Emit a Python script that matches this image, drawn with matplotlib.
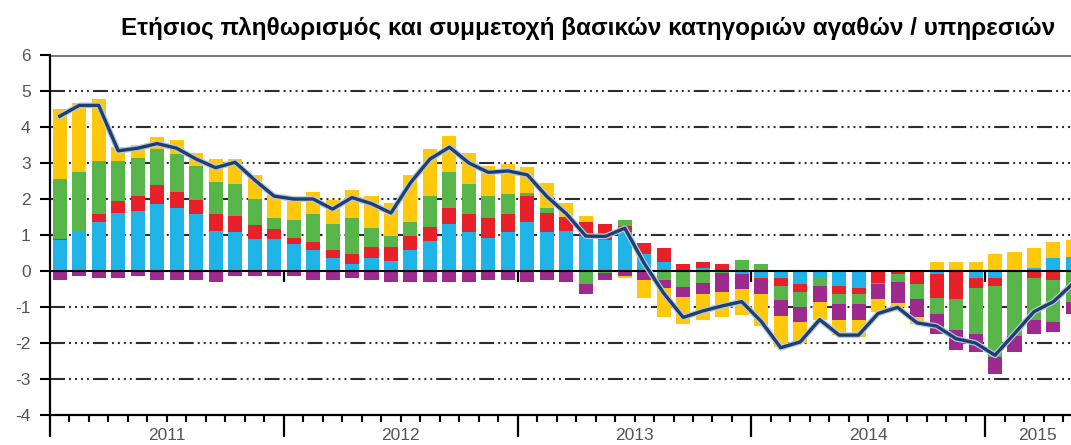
import matplotlib
matplotlib.use("Agg")
import matplotlib.pyplot as plt
import matplotlib.patheffects as pe
import matplotlib.transforms as mtransforms
import numpy as np

plt.rcParams['font.family'] = ['Liberation Sans', 'DejaVu Sans']
plt.rcParams['lines.scale_dashes'] = False

title = "Ετήσιος πληθωρισμός και συμμετοχή βασικών κατηγοριών αγαθών / υπηρεσιών"
years = ["2011", "2012", "2013", "2014", "2015"]
year_label_pos = [5.5, 17.5, 29.5, 41.5, 50.2]

blue = [0.85, 1.07, 1.35, 1.62, 1.68, 1.85, 1.74, 1.57, 1.12, 1.07, 0.90, 0.90,
        0.74, 0.57, 0.35, 0.19, 0.35, 0.29, 0.57, 0.84, 1.30, 1.07, 0.91, 1.07,
        1.35, 1.07, 1.12, 0.97, 0.86, 1.09, 0.47, 0.24, 0.00, 0.07, 0.00, -0.07,
        -0.20, -0.20, -0.37, -0.20, -0.42, -0.48, 0.00, 0.00, 0.00, -0.07, 0.00, -0.20,
        -0.20, 0.00, 0.07, 0.35, 0.40]
red = [0.05, 0.00, 0.22, 0.33, 0.39, 0.55, 0.45, 0.39, 0.45, 0.45, 0.39, 0.28,
       0.17, 0.23, 0.23, 0.28, 0.33, 0.39, 0.39, 0.39, 0.45, 0.50, 0.55, 0.51,
       0.72, 0.55, 0.39, 0.40, 0.44, 0.16, 0.32, 0.39, 0.19, 0.17, 0.19, 0.00,
       -0.05, -0.21, -0.22, 0.00, -0.22, -0.16, -0.32, -0.09, -0.37, -0.68, -0.77, -0.28,
       -0.21, 0.00, -0.20, -0.25, 0.00]
green = [1.65, 1.67, 1.49, 1.11, 1.06, 1.00, 1.06, 0.95, 0.89, 0.89, 0.72, 0.28,
         0.51, 0.78, 0.72, 0.99, 0.51, 0.28, 0.39, 0.84, 0.99, 0.84, 0.61, 0.56,
         0.11, 0.12, 0.00, -0.37, -0.06, 0.17, 0.00, -0.25, -0.44, -0.32, -0.05, 0.31,
         0.19, -0.39, -0.40, -0.21, -0.29, -0.29, -0.05, -0.22, -0.40, -0.44, -0.87, -1.27,
         -1.99, -1.81, -1.16, -1.16, -0.85]
purple = [-0.26, -0.14, -0.20, -0.20, -0.14, -0.26, -0.26, -0.25, -0.31, -0.15, -0.15, -0.15,
          -0.14, -0.25, -0.25, -0.19, -0.25, -0.31, -0.31, -0.31, -0.31, -0.31, -0.25, -0.25,
          -0.30, -0.25, -0.30, -0.28, -0.19, -0.14, -0.25, -0.23, -0.28, -0.32, -0.52, -0.42,
          -0.39, -0.46, -0.44, -0.46, -0.44, -0.44, -0.40, -0.57, -0.50, -0.55, -0.56, -0.49,
          -0.46, -0.44, -0.39, -0.28, -0.35]
yellow = [1.95, 1.92, 1.72, 0.39, 0.37, 0.33, 0.38, 0.38, 0.65, 0.71, 0.67, 0.65,
          0.65, 0.61, 0.68, 0.78, 0.88, 0.94, 1.33, 1.33, 1.00, 0.88, 0.84, 0.82,
          0.72, 0.71, 0.37, 0.16, 0.00, -0.05, -0.49, -0.81, -0.76, -0.71, -0.70, -0.72,
          -0.89, -0.86, -0.58, -0.49, -0.42, -0.45, -0.36, -0.13, -0.20, 0.24, 0.24, 0.24,
          0.46, 0.52, 0.56, 0.45, 0.46]
headline = [4.30, 4.60, 4.60, 3.34, 3.41, 3.54, 3.41, 3.11, 2.87, 3.02, 2.53, 2.08,
            2.00, 2.00, 1.72, 2.04, 1.87, 1.61, 2.45, 3.11, 3.44, 3.00, 2.74, 2.78,
            2.67, 2.07, 1.59, 0.97, 0.96, 1.19, 0.21, -0.62, -1.29, -1.11, -0.97, -0.85,
            -1.40, -2.13, -1.97, -1.35, -1.78, -1.78, -1.18, -1.01, -1.44, -1.53, -1.88, -2.00,
            -2.34, -1.74, -1.13, -0.85, -0.35]

series = [blue, red, green, purple, yellow]
colors = ['#1EB4E8', '#E8202A', '#58B54A', '#9E2A8E', '#FFC80A']

n = len(headline)
x = np.arange(n)
x_left, x_right = -0.5, 51.9

fig = plt.figure(figsize=(10.71, 4.45), dpi=100)
ax = fig.add_axes([50 / 1071, 30 / 445, 1021 / 1071, 360 / 445])

pos_base = np.zeros(n)
neg_base = np.zeros(n)
for vals, c in zip(series, colors):
    v = np.array(vals)
    p = np.where(v > 0, v, 0)
    q = np.where(v < 0, v, 0)
    ax.bar(x, p, bottom=pos_base, width=0.72, color=c, edgecolor='none', zorder=2)
    ax.bar(x, q, bottom=neg_base, width=0.72, color=c, edgecolor='none', zorder=2)
    pos_base += p
    neg_base += q

ax.plot(x, headline, color='#1E3F6F', lw=2.4, zorder=6,
        path_effects=[pe.Stroke(linewidth=4.2, foreground='#b9c8dc'), pe.Normal()])

# grid lines
dash = (0, (10.8, 2.9, 1.4, 2.9, 1.4, 2.9, 1.4, 2.9, 1.4, 2.9))
for g in [5, 4, 3, 2, 1, -1, -2, -3]:
    ax.axhline(g, color='#2e2e2e', lw=1.5, linestyle=dash, zorder=0)
ax.axhline(6, color='#7a7a7a', lw=2.2, zorder=1)
ax.axhline(0, color='black', lw=1.5, zorder=4)

# year separators at zero line
year_bounds = [-0.5, 11.5, 23.5, 35.5, 47.5]
for b in year_bounds[1:]:
    ax.plot([b, b], [0, -0.3], color='black', lw=1.6, zorder=4, solid_capstyle='butt')

for s in ['top', 'right']:
    ax.spines[s].set_visible(False)
ax.spines['left'].set_linewidth(1.6)
ax.spines['bottom'].set_linewidth(1.6)

ax.set_yticks(range(-4, 7))
ax.set_yticklabels([str(v) if v >= 0 else '-' + str(-v) for v in range(-4, 7)],
                   color='#555555', fontsize=12.5)
ax.tick_params(axis='y', direction='out', length=7, width=1.5, pad=7)

ax.set_xticks(year_bounds)
ax.set_xticklabels([])
minor = [i + 0.5 for i in range(-1, n) if (i + 0.5) not in year_bounds and (i + 0.5) < x_right]
ax.set_xticks(minor, minor=True)
ax.tick_params(axis='x', which='major', direction='out', length=16, width=1.6)
ax.tick_params(axis='x', which='minor', direction='out', length=5, width=1.5)

ax.set_xlim(x_left, x_right)
ax.set_ylim(-4, 6)

trans = mtransforms.blended_transform_factory(ax.transData, ax.transAxes)
for yl, xp in zip(years, year_label_pos):
    ax.text(xp, -25 / 360, yl, transform=trans, ha='center', va='baseline',
            fontsize=12.5, color='#555555', clip_on=False)

fig.text(588.5 / 1071, 1 - 28 / 445, title, ha='center', va='center',
         fontsize=17.5, fontweight='bold', color='black')

fig.savefig('out.png', dpi=100)
